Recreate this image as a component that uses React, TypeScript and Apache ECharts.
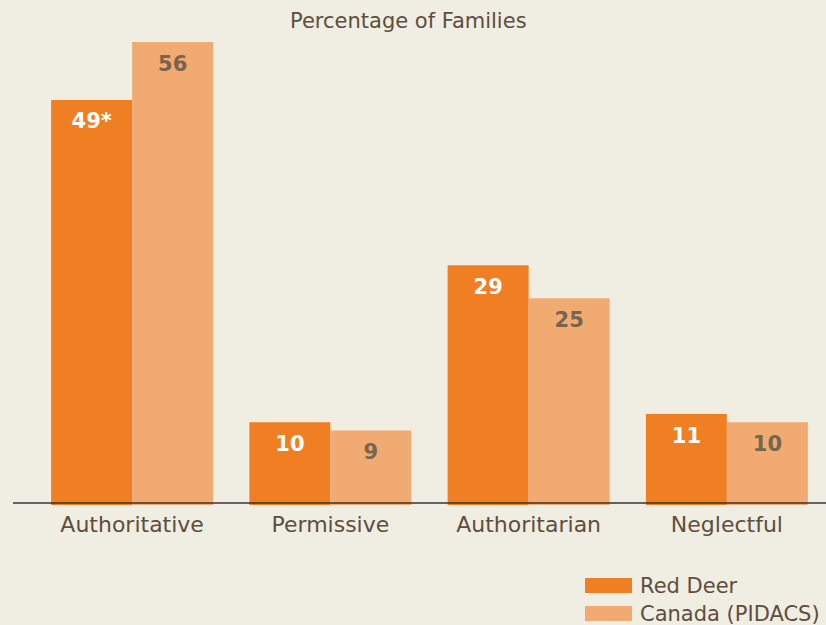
import React, { useEffect, useRef } from "react";
import * as echarts from "echarts";

const categories = ["Authoritative", "Permissive", "Authoritarian", "Neglectful"];
const redDeer = [49, 10, 29, 11];
const redDeerLabels = ["49*", "10", "29", "11"];
const canada = [56, 9, 25, 10];
const seriesNames = ["Red Deer", "Canada (PIDACS)"];
const titleText = "Percentage of Families";

const FONT = "'DejaVu Sans', Verdana, sans-serif";
const BG = "#F0EDE2";
const TEXT = "#5E4E3E";

export default function App() {
  const ref = useRef<HTMLDivElement>(null);
  useEffect(() => {
    document.body.style.margin = "0";
    document.body.style.background = BG;
    const chart = echarts.init(ref.current!, null, { renderer: "svg" });
    chart.setOption({
      animation: false,
      backgroundColor: BG,
      textStyle: { fontFamily: FONT },
      title: {
        text: titleText,
        left: 290,
        top: 10,
        padding: 0,
        textStyle: { fontFamily: FONT, fontSize: 21, fontWeight: "normal", color: TEXT },
      },
      legend: {
        orient: "vertical",
        left: 585,
        top: 575,
        padding: 0,
        itemWidth: 47,
        itemHeight: 15,
        itemGap: 7,
        icon: "rect",
        data: seriesNames,
        textStyle: { fontFamily: FONT, fontSize: 21, color: TEXT, padding: [0, 0, 0, 3] },
      },
      grid: { left: 33, right: -4, top: 9, bottom: 120 },
      xAxis: {
        type: "category",
        data: categories,
        axisLine: { show: false },
        axisTick: { show: false },
        axisLabel: { fontFamily: FONT, fontSize: 22, color: TEXT, margin: 8 },
      },
      yAxis: { type: "value", min: 0, max: 60, show: false, splitLine: { show: false } },
      series: [
        {
          name: seriesNames[0],
          type: "bar",
          data: redDeer,
          barWidth: 81,
          barGap: "0%",
          itemStyle: { color: "#F07F24" },
          label: {
            show: true,
            position: "insideTop",
            distance: 11,
            formatter: (p: any) => redDeerLabels[p.dataIndex],
            fontFamily: FONT,
            fontSize: 21,
            fontWeight: "bold",
            color: "#FFFFFF",
          },
        },
        {
          name: seriesNames[1],
          type: "bar",
          data: canada,
          barWidth: 81,
          itemStyle: { color: "#F0AA72" },
          label: {
            show: true,
            position: "insideTop",
            distance: 11,
            fontFamily: FONT,
            fontSize: 21,
            fontWeight: "bold",
            color: "#76654F",
          },
        },
      ],
      graphic: [
        {
          type: "line",
          z: 100,
          shape: { x1: 13, y1: 503, x2: 826, y2: 503 },
          style: { stroke: "#333333", lineWidth: 1.5 },
        },
      ],
    });
    return () => chart.dispose();
  }, []);
  return <div ref={ref} style={{ width: 826, height: 625 }} />;
}
